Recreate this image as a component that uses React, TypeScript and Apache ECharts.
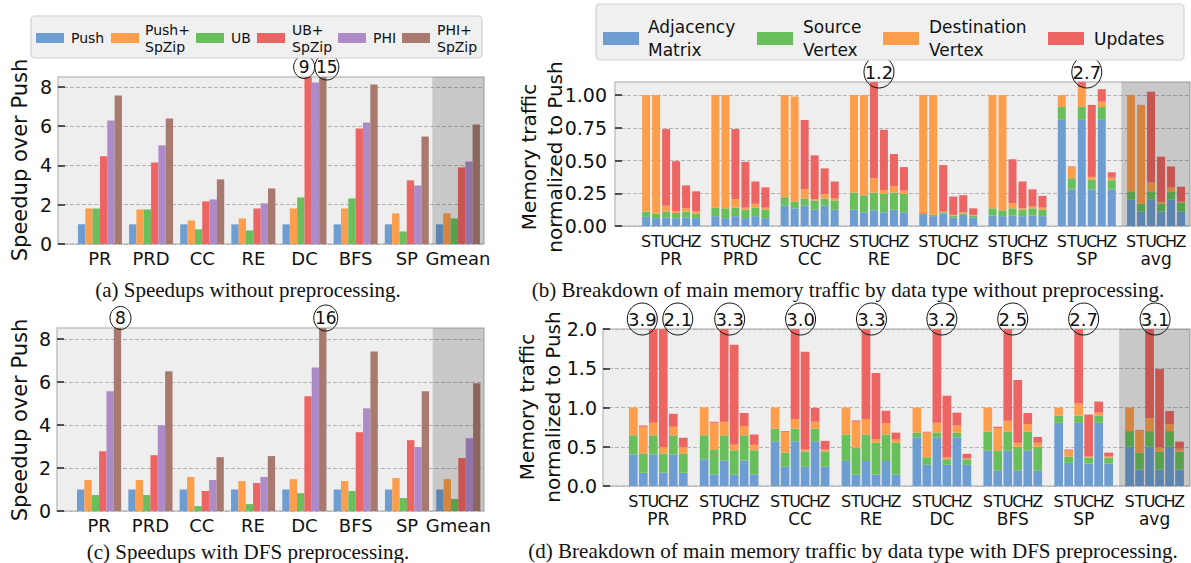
import React, { useEffect, useRef } from "react";
import * as echarts from "echarts";

const FONT = "'DejaVu Sans', 'Noto Sans', sans-serif";
const SERIF = "'Liberation Serif', 'DejaVu Serif', serif";

// ---------------- Speedup panels (a) and (c) ----------------
const speedCategories = ["PR", "PRD", "CC", "RE", "DC", "BFS", "SP", "Gmean"];
const speedSeriesNames = ["Push", "Push+\nSpZip", "UB", "UB+\nSpZip", "PHI", "PHI+\nSpZip"];
const speedTicks = [0, 2, 4, 6, 8];

// (a) without preprocessing
const aPush = [1, 1, 1, 1, 1, 1, 1, 1];
const aPushSpZip = [1.81, 1.76, 1.2, 1.3, 1.81, 1.81, 1.56, 1.56];
const aUB = [1.81, 1.76, 0.75, 0.69, 2.37, 2.32, 0.64, 1.3];
const aUBSpZip = [4.46, 4.15, 2.17, 1.81, 9, 5.88, 3.24, 3.9];
const aPHI = [6.29, 5.02, 2.27, 2.07, 8.22, 6.19, 2.98, 4.2];
const aPHISpZip = [7.56, 6.39, 3.29, 2.83, 15, 8.12, 5.47, 6.08];
const aAnnotations = [
  { cat: 4, bar: 3, text: "9" },
  { cat: 4, bar: 5, text: "15" },
];

// (c) with DFS preprocessing
const cPush = [1, 1, 1, 1, 1, 1, 1, 1];
const cPushSpZip = [1.44, 1.44, 1.58, 1.39, 1.48, 1.39, 1.53, 1.48];
const cUB = [0.74, 0.74, 0.23, 0.32, 0.83, 0.93, 0.6, 0.56];
const cUBSpZip = [2.78, 2.59, 0.93, 1.3, 5.33, 3.66, 3.29, 2.46];
const cPHI = [5.56, 3.98, 1.44, 1.58, 6.67, 4.77, 2.97, 3.38];
const cPHISpZip = [8.6, 6.49, 2.5, 2.55, 16, 7.41, 5.56, 5.93];
const cAnnotations = [
  { cat: 0, bar: 5, text: "8" },
  { cat: 4, bar: 5, text: "16" },
];

// ---------------- Traffic panels (b) and (d) ----------------
const trafficCategories = ["PR", "PRD", "CC", "RE", "DC", "BFS", "SP", "avg"];
const trafficBarLetters = ["S", "T", "U", "C", "H", "Z"];
const trafficSeriesNames = ["Adjacency\nMatrix", "Source\nVertex", "Destination\nVertex", "Updates"];
const bTicks = [0, 0.25, 0.5, 0.75, 1.0];
const dTicks = [0, 0.5, 1.0, 1.5, 2.0];

// (b) without preprocessing: per group, bars S,T,U,C,H,Z
const bAdjacency = [
  [0.07, 0.06, 0.065, 0.06, 0.065, 0.06],
  [0.075, 0.06, 0.075, 0.06, 0.075, 0.06],
  [0.155, 0.135, 0.155, 0.125, 0.155, 0.125],
  [0.125, 0.105, 0.12, 0.105, 0.125, 0.105],
  [0.09, 0.075, 0.095, 0.065, 0.085, 0.065],
  [0.08, 0.075, 0.08, 0.075, 0.08, 0.075],
  [0.815, 0.28, 0.815, 0.28, 0.815, 0.28],
  [0.2, 0.11, 0.2, 0.11, 0.2, 0.11],
];
const bSource = [
  [0.04, 0.035, 0.045, 0.04, 0.045, 0.035],
  [0.065, 0.075, 0.065, 0.065, 0.065, 0.065],
  [0.065, 0.05, 0.055, 0.07, 0.055, 0.07],
  [0.13, 0.13, 0.135, 0.14, 0.13, 0.14],
  [0.01, 0.01, 0.01, 0.015, 0.01, 0.015],
  [0.055, 0.045, 0.055, 0.05, 0.055, 0.05],
  [0.095, 0.085, 0.095, 0.075, 0.095, 0.07],
  [0.065, 0.06, 0.065, 0.06, 0.065, 0.07],
];
const bDestination = [
  [0.89, 0.905, 0.045, 0.015, 0.025, 0.015],
  [0.86, 0.865, 0.065, 0.015, 0.03, 0.015],
  [0.78, 0.805, 0.07, 0.01, 0.035, 0.015],
  [0.745, 0.765, 0.11, 0.03, 0.05, 0.025],
  [0.9, 0.915, 0.005, 0.005, 0.01, 0.005],
  [0.865, 0.88, 0.04, 0.01, 0.015, 0.015],
  [0.09, 0.085, 0.15, 0.02, 0.04, 0.02],
  [0.735, 0.75, 0.07, 0.015, 0.03, 0.005],
];
const bUpdates = [
  [0, 0, 0.585, 0.38, 0.175, 0.155],
  [0, 0, 0.535, 0.35, 0.17, 0.155],
  [0, 0, 0.53, 0.335, 0.195, 0.13],
  [0, 0, 0.835, 0.46, 0.245, 0.18],
  [0, 0, 0.355, 0.14, 0.13, 0.05],
  [0, 0, 0.335, 0.205, 0.13, 0.09],
  [0, 0.005, 1.64, 0.55, 0.095, 0.04],
  [0, 0.005, 0.69, 0.345, 0.16, 0.115],
];
const bAnnotations = [
  { cat: 3, bar: 2, text: "1.2" },
  { cat: 6, bar: 2, text: "2.7" },
];

// (d) with DFS preprocessing
const dAdjacency = [
  [0.4, 0.17, 0.4, 0.17, 0.4, 0.17],
  [0.34, 0.145, 0.325, 0.145, 0.325, 0.145],
  [0.57, 0.245, 0.57, 0.245, 0.57, 0.245],
  [0.32, 0.145, 0.32, 0.145, 0.32, 0.145],
  [0.62, 0.27, 0.62, 0.27, 0.62, 0.27],
  [0.45, 0.195, 0.45, 0.195, 0.45, 0.195],
  [0.805, 0.295, 0.805, 0.285, 0.805, 0.285],
  [0.5, 0.21, 0.5, 0.21, 0.5, 0.21],
];
const dSource = [
  [0.245, 0.245, 0.245, 0.245, 0.245, 0.245],
  [0.305, 0.315, 0.32, 0.31, 0.32, 0.31],
  [0.16, 0.18, 0.16, 0.195, 0.16, 0.195],
  [0.335, 0.345, 0.335, 0.405, 0.335, 0.405],
  [0.06, 0.095, 0.06, 0.07, 0.06, 0.07],
  [0.24, 0.255, 0.24, 0.305, 0.24, 0.305],
  [0.09, 0.08, 0.09, 0.075, 0.09, 0.075],
  [0.2, 0.215, 0.2, 0.225, 0.2, 0.225],
];
const dDestination = [
  [0.355, 0.34, 0.16, 0.08, 0.11, 0.08],
  [0.355, 0.345, 0.175, 0.07, 0.12, 0.07],
  [0.27, 0.265, 0.125, 0.025, 0.09, 0.025],
  [0.345, 0.33, 0.2, 0.05, 0.14, 0.04],
  [0.32, 0.315, 0.125, 0.025, 0.09, 0.01],
  [0.31, 0.29, 0.14, 0.05, 0.1, 0.05],
  [0.105, 0.075, 0.155, 0.015, 0.04, 0.015],
  [0.3, 0.28, 0.165, 0.055, 0.09, 0.04],
];
const dUpdates = [
  [0, 0.015, 3.095, 1.605, 0.165, 0.12],
  [0, 0.015, 2.48, 1.275, 0.165, 0.13],
  [0, 0.01, 2.145, 1.245, 0.175, 0.11],
  [0, 0.015, 2.445, 0.84, 0.165, 0.09],
  [0, 0.01, 2.395, 0.785, 0.165, 0.06],
  [0, 0.015, 1.67, 0.8, 0.14, 0.075],
  [0, 0.015, 1.65, 0.535, 0.14, 0.05],
  [0, 0.01, 2.235, 1.0, 0.165, 0.09],
];
const dAnnotations = [
  { cat: 0, bar: 2, text: "3.9" },
  { cat: 0, bar: 3, text: "2.1" },
  { cat: 1, bar: 2, text: "3.3" },
  { cat: 2, bar: 2, text: "3.0" },
  { cat: 3, bar: 2, text: "3.3" },
  { cat: 4, bar: 2, text: "3.2" },
  { cat: 5, bar: 2, text: "2.5" },
  { cat: 6, bar: 2, text: "2.7" },
  { cat: 7, bar: 2, text: "3.1" },
];

// ---------------- styles / layout ----------------
const speedColors = ["#6e9ed1", "#fd9e4c", "#68bf5c", "#ec6562", "#ac8bc8", "#a87a6f"];
const trafficColors = ["#6e9ed1", "#68bf5c", "#fd9e4c", "#ec6562"];

const PANELS = {
  a: { grid: { left: 58, top: 77, width: 426, height: 167 }, xMin: -0.82, xMax: 7.51, yMax: 8.5 },
  c: { grid: { left: 57, top: 328, width: 427, height: 183 }, xMin: -0.82, xMax: 7.5, yMax: 8.5 },
  b: { grid: { left: 615, top: 82, width: 575, height: 144 }, xMin: -0.81, xMax: 7.49, yMax: 1.1 },
  d: { grid: { left: 603, top: 329, width: 587, height: 157 }, xMin: -0.78, xMax: 7.5, yMax: 2.0 },
};
const SHADE_FROM = 6.5;

function clipToGrid(r: any, cs: any) {
  return echarts.graphic.clipRectByRect(r, { x: cs.x, y: cs.y, width: cs.width, height: cs.height });
}

function shadeSeries(gi: number) {
  return {
    type: "custom",
    xAxisIndex: gi,
    yAxisIndex: gi,
    z: 5,
    silent: true,
    data: [[SHADE_FROM, 0]],
    renderItem: (params: any, api: any) => {
      const cs = params.coordSys;
      const p = api.coord([api.value(0), 0]);
      return {
        type: "rect",
        shape: { x: p[0], y: cs.y, width: cs.x + cs.width - p[0], height: cs.height },
        style: { fill: "rgba(0,0,0,0.155)" },
      };
    },
  };
}

function speedPanelSeries(gi: number, values: number[][], annots: any[], annDx: number[], yMax: number) {
  const step = 0.1434;
  const out: any[] = [];
  values.forEach((arr, k) => {
    out.push({
      type: "custom",
      name: speedSeriesNames[k],
      xAxisIndex: gi,
      yAxisIndex: gi,
      z: 2,
      data: arr.map((v, i) => [i, v]),
      renderItem: (params: any, api: any) => {
        const i = api.value(0);
        const v = api.value(1);
        const xc = i + (k - 2.5) * step;
        const p0 = api.coord([xc - step / 2, 0]);
        const p1 = api.coord([xc + step / 2, v]);
        const r = clipToGrid(
          { x: p0[0], y: p1[1], width: p1[0] - p0[0], height: p0[1] - p1[1] },
          params.coordSys
        );
        return r ? { type: "rect", shape: r, style: { fill: speedColors[k] } } : null;
      },
    });
  });
  // category labels
  out.push({
    type: "custom",
    xAxisIndex: gi,
    yAxisIndex: gi,
    clip: false,
    silent: true,
    z: 6,
    data: speedCategories.map((c, i) => [i, 0]),
    renderItem: (params: any, api: any) => {
      const p = api.coord([api.value(0), 0]);
      return {
        type: "text",
        x: p[0],
        y: p[1] + 14,
        style: {
          text: speedCategories[params.dataIndex],
          fontSize: 18,
          fontFamily: FONT,
          fill: "#111",
          align: "center",
          verticalAlign: "middle",
        },
      };
    },
  });
  // clipped-value annotations
  out.push({
    type: "custom",
    xAxisIndex: gi,
    yAxisIndex: gi,
    clip: false,
    silent: true,
    z: 7,
    data: annots.map((a) => [a.cat, a.bar]),
    renderItem: (params: any, api: any) => {
      const a = annots[params.dataIndex];
      const xc = a.cat + (a.bar - 2.5) * step;
      const p = api.coord([xc, yMax]);
      const cx = p[0] + annDx[params.dataIndex];
      const cy = p[1] - 10;
      const rx = a.text.length > 1 ? 12 : 10.5;
      return {
        type: "group",
        children: [
          { type: "ellipse", shape: { cx, cy, rx, ry: rx + 1 }, style: { fill: "none", stroke: "#111", lineWidth: 1 } },
          {
            type: "text",
            x: cx,
            y: cy,
            style: { text: a.text, fontSize: 17, fontFamily: FONT, fill: "#111", align: "center", verticalAlign: "middle" },
          },
        ],
      };
    },
  });
  out.push(shadeSeries(gi));
  return out;
}

function trafficPanelSeries(
  gi: number,
  segs: number[][][],
  annots: any[],
  annDx: number[],
  yMax: number,
  step: number,
  width: number
) {
  const out: any[] = [];
  const cum: number[][] = trafficCategories.map(() => [0, 0, 0, 0, 0, 0]);
  segs.forEach((arr, j) => {
    const data: number[][] = [];
    arr.forEach((group, i) => {
      group.forEach((v, k) => {
        data.push([i, k, cum[i][k], cum[i][k] + v]);
        cum[i][k] += v;
      });
    });
    out.push({
      type: "custom",
      name: trafficSeriesNames[j],
      xAxisIndex: gi,
      yAxisIndex: gi,
      z: 2,
      encode: { x: 0, y: 3 },
      data,
      renderItem: (params: any, api: any) => {
        const i = api.value(0);
        const k = api.value(1);
        const b = api.value(2);
        const t = api.value(3);
        if (t - b <= 0) return null;
        const xc = i + (k - 2.5) * step;
        const p0 = api.coord([xc - width / 2, b]);
        const p1 = api.coord([xc + width / 2, t]);
        const r = clipToGrid(
          { x: p0[0], y: p1[1], width: p1[0] - p0[0], height: p0[1] - p1[1] },
          params.coordSys
        );
        return r ? { type: "rect", shape: r, style: { fill: trafficColors[j] } } : null;
      },
    });
  });
  // bar letters
  const letterData: number[][] = [];
  trafficCategories.forEach((c, i) => trafficBarLetters.forEach((l, k) => letterData.push([i, 0, k])));
  out.push({
    type: "custom",
    xAxisIndex: gi,
    yAxisIndex: gi,
    clip: false,
    silent: true,
    z: 6,
    encode: { x: 0, y: 1 },
    data: letterData,
    renderItem: (params: any, api: any) => {
      const i = api.value(0);
      const k = api.value(2);
      const p = api.coord([i + (k - 2.5) * step, 0]);
      return {
        type: "text",
        x: p[0],
        y: p[1] + 15,
        style: {
          text: trafficBarLetters[k],
          fontSize: 16,
          fontFamily: FONT,
          fill: "#111",
          align: "center",
          verticalAlign: "middle",
        },
      };
    },
  });
  // group labels
  out.push({
    type: "custom",
    xAxisIndex: gi,
    yAxisIndex: gi,
    clip: false,
    silent: true,
    z: 6,
    data: trafficCategories.map((c, i) => [i, 0]),
    renderItem: (params: any, api: any) => {
      const p = api.coord([api.value(0), 0]);
      return {
        type: "text",
        x: p[0],
        y: p[1] + 33,
        style: {
          text: trafficCategories[params.dataIndex],
          fontSize: 17,
          fontFamily: FONT,
          fill: "#111",
          align: "center",
          verticalAlign: "middle",
        },
      };
    },
  });
  // annotations
  out.push({
    type: "custom",
    xAxisIndex: gi,
    yAxisIndex: gi,
    clip: false,
    silent: true,
    z: 7,
    data: annots.map((a) => [a.cat, a.bar]),
    renderItem: (params: any, api: any) => {
      const a = annots[params.dataIndex];
      const xc = a.cat + (a.bar - 2.5) * step;
      const p = api.coord([xc, yMax]);
      const cx = p[0] + annDx[params.dataIndex];
      const cy = p[1] - 10;
      return {
        type: "group",
        children: [
          { type: "ellipse", shape: { cx, cy, rx: 15, ry: 16 }, style: { fill: "none", stroke: "#111", lineWidth: 1 } },
          {
            type: "text",
            x: cx,
            y: cy,
            style: { text: a.text, fontSize: 18, fontFamily: FONT, fill: "#111", align: "center", verticalAlign: "middle" },
          },
        ],
      };
    },
  });
  out.push(shadeSeries(gi));
  return out;
}

function legendGraphic(items: any[], color: string[], box: any, sw: any, fontSize: number, lineHeight: number) {
  const els: any[] = [
    {
      type: "rect",
      shape: { x: box.x, y: box.y, width: box.w, height: box.h, r: 4 },
      style: { fill: "#f0f0f0", stroke: "#d0d0d0", lineWidth: 1.2 },
      z: 10,
    },
  ];
  items.forEach((it, idx) => {
    els.push({
      type: "rect",
      shape: { x: it.sx, y: sw.y, width: sw.w, height: sw.h },
      style: { fill: color[idx] },
      z: 11,
    });
    els.push({
      type: "text",
      x: it.tx,
      y: sw.y + sw.h / 2,
      style: {
        text: it.name,
        fontSize,
        fontFamily: FONT,
        fill: "#111",
        align: "left",
        verticalAlign: "middle",
        lineHeight,
      },
      z: 11,
    });
  });
  return els;
}

function yAxisCfg(gi: number, max: number, ticks: number[], decimals: number, margin: number, fontSize: number) {
  return {
    type: "value",
    gridIndex: gi,
    min: 0,
    max,
    axisLine: { show: false, onZero: false },
    axisTick: {
      show: true,
      inside: true,
      length: 7,
      customValues: ticks,
      lineStyle: { color: "#222", width: 1.5 },
    },
    axisLabel: {
      customValues: ticks,
      fontSize,
      fontFamily: FONT,
      color: "#111",
      margin,
      formatter: (v: number) => (decimals === 0 ? String(Math.round(v)) : v.toFixed(decimals)),
    },
    splitLine: { show: true, lineStyle: { type: [4, 2], color: "#b3b3b3", width: 1 } },
  };
}

function xAxisCfg(gi: number, p: any) {
  return { type: "value", gridIndex: gi, min: p.xMin, max: p.xMax, show: false, axisLine: { onZero: false } };
}

function gridCfg(p: any) {
  return {
    ...p.grid,
    show: true,
    backgroundColor: "#eeeeee",
    borderColor: "#c2c2c2",
    borderWidth: 1.5,
    containLabel: false,
  };
}

export default function App() {
  const ref = useRef<HTMLDivElement>(null);
  useEffect(() => {
    if (!ref.current) return;
    const chart = echarts.init(ref.current, undefined, { renderer: "svg" });
    const series = [
      ...speedPanelSeries(0, [aPush, aPushSpZip, aUB, aUBSpZip, aPHI, aPHISpZip], aAnnotations, [-4, 4], PANELS.a.yMax),
      ...speedPanelSeries(1, [cPush, cPushSpZip, cUB, cUBSpZip, cPHI, cPHISpZip], cAnnotations, [3, 3], PANELS.c.yMax),
      ...trafficPanelSeries(2, [bAdjacency, bSource, bDestination, bUpdates], bAnnotations, [5, 5], PANELS.b.yMax, 0.1443, 0.1154),
      ...trafficPanelSeries(
        3,
        [dAdjacency, dSource, dDestination, dUpdates],
        dAnnotations,
        [-11, 14.5, 5.5, 5.5, 5.5, 5, 5, 5, 5.5],
        PANELS.d.yMax,
        0.141,
        0.1227
      ),
    ];

    const speedLegendItems = [
      { name: speedSeriesNames[0], sx: 36, tx: 71 },
      { name: speedSeriesNames[1], sx: 111, tx: 145 },
      { name: speedSeriesNames[2], sx: 196, tx: 231 },
      { name: speedSeriesNames[3], sx: 257, tx: 292 },
      { name: speedSeriesNames[4], sx: 338, tx: 373 },
      { name: speedSeriesNames[5], sx: 402, tx: 437 },
    ];
    const trafficLegendItems = [
      { name: trafficSeriesNames[0], sx: 603, tx: 648 },
      { name: trafficSeriesNames[1], sx: 757, tx: 803 },
      { name: trafficSeriesNames[2], sx: 883, tx: 929 },
      { name: trafficSeriesNames[3], sx: 1048, tx: 1094 },
    ];

    const rotLabel = (text: string, x: number, y: number, size: number) => ({
      type: "text",
      x,
      y,
      rotation: Math.PI / 2,
      style: { text, fontSize: size, lineHeight: 26, fontFamily: FONT, fill: "#111", align: "center", verticalAlign: "middle" },
    });
    const caption = (text: string, x: number, y: number) => ({
      type: "text",
      x,
      y,
      style: { text, fontSize: 21, fontFamily: SERIF, fill: "#111", align: "center", verticalAlign: "middle" },
    });

    const graphic: any[] = [
      ...legendGraphic(speedLegendItems, speedColors, { x: 31, y: 16, w: 451, h: 42 }, { y: 33, w: 28, h: 10 }, 14, 17),
      ...legendGraphic(trafficLegendItems, trafficColors, { x: 596, y: 4, w: 588, h: 56 }, { y: 32, w: 36, h: 13 }, 17, 23),
      rotLabel("Speedup over Push", 20, 160, 21),
      rotLabel("Speedup over Push", 20, 420, 21),
      rotLabel("Memory traffic\nnormalized to Push", 542, 157, 20),
      rotLabel("Memory traffic\nnormalized to Push", 540, 407, 20),
      caption("(a) Speedups without preprocessing.", 248, 290),
      caption("(c) Speedups with DFS preprocessing.", 248, 552),
      caption("(b) Breakdown of main memory traffic by data type without preprocessing.", 848, 290),
      caption("(d) Breakdown of main memory traffic by data type with DFS preprocessing.", 853, 551),
    ];

    chart.setOption({
      animation: false,
      backgroundColor: "#ffffff",
      textStyle: { fontFamily: FONT },
      grid: [gridCfg(PANELS.a), gridCfg(PANELS.c), gridCfg(PANELS.b), gridCfg(PANELS.d)],
      xAxis: [xAxisCfg(0, PANELS.a), xAxisCfg(1, PANELS.c), xAxisCfg(2, PANELS.b), xAxisCfg(3, PANELS.d)],
      yAxis: [
        yAxisCfg(0, PANELS.a.yMax, speedTicks, 0, 6, 19),
        yAxisCfg(1, PANELS.c.yMax, speedTicks, 0, 6, 19),
        yAxisCfg(2, PANELS.b.yMax, bTicks, 2, 8, 19),
        yAxisCfg(3, PANELS.d.yMax, dTicks, 1, 6, 19),
      ],
      series,
      graphic,
    });
    return () => chart.dispose();
  }, []);
  return (
    <div
      ref={ref}
      style={{ position: "absolute", left: 0, top: 0, width: 1191, height: 563, background: "#fff" }}
    />
  );
}
